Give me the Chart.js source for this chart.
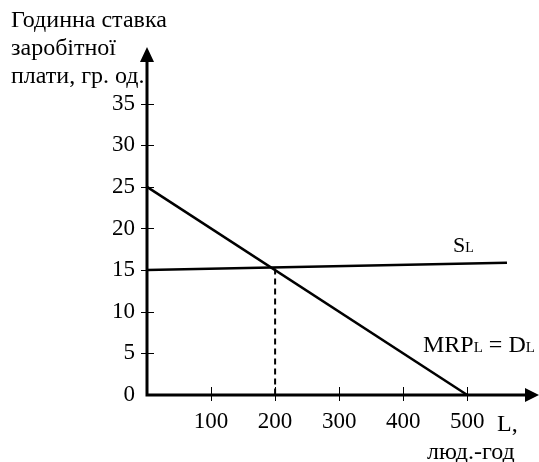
<!DOCTYPE html>
<html>
<head>
<meta charset="utf-8">
<script src="https://cdn.jsdelivr.net/npm/chart.js@4"></script>
<style>
  body { margin: 0; background: #fff; }
  #wrap { width: 539px; height: 462px; position: relative; }
</style>
</head>
<body>
<div id="wrap"><canvas id="labour"></canvas></div>
<script>
// ринок праці: попит MRP = D та пропозиція S
const xTicks = [100, 200, 300, 400, 500];
const yTicks = [0, 5, 10, 15, 20, 25, 30, 35];
const demandPoints = [{ x: 0, y: 25 }, { x: 500, y: 0 }];
const supplyPoints = [{ x: 0, y: 15 }, { x: 562, y: 15.9 }];
const equilibriumDrop = [{ x: 200, y: 15.2 }, { x: 200, y: 0 }];
const titleLines = ['Годинна ставка', 'заробітної', 'плати, гр. од.'];

const serif = '"Liberation Serif", "Times New Roman", serif';

// осі зі стрілками, риски та підписи
const axesPlugin = {
  id: 'axesPlugin',
  beforeDatasetsDraw(chart) {
    const ctx = chart.ctx;
    const { left, right, top, bottom } = chart.chartArea;
    const xs = chart.scales.x, ys = chart.scales.y;
    ctx.save();
    ctx.strokeStyle = '#000';
    ctx.fillStyle = '#000';
    ctx.lineWidth = 3;
    ctx.beginPath();
    ctx.moveTo(left, bottom);
    ctx.lineTo(left, top + 10);
    ctx.moveTo(left - 1.5, bottom);
    ctx.lineTo(right - 10, bottom);
    ctx.stroke();
    // стрілки
    ctx.beginPath();
    ctx.moveTo(left, top);
    ctx.lineTo(left - 7, top + 15);
    ctx.lineTo(left + 7, top + 15);
    ctx.closePath();
    ctx.fill();
    ctx.beginPath();
    ctx.moveTo(right, bottom);
    ctx.lineTo(right - 14, bottom - 7);
    ctx.lineTo(right - 14, bottom + 7);
    ctx.closePath();
    ctx.fill();
    // риски
    ctx.lineWidth = 1;
    ctx.beginPath();
    ys.ticks.forEach(t => {
      if (t.value === 0) return;
      const py = Math.round(ys.getPixelForValue(t.value)) + 0.5;
      ctx.moveTo(left - 6, py);
      ctx.lineTo(left + 7, py);
    });
    xs.ticks.forEach(t => {
      const px = Math.round(xs.getPixelForValue(t.value)) + 0.5;
      ctx.moveTo(px, bottom - 8);
      ctx.lineTo(px, bottom + 6);
    });
    ctx.stroke();
    ctx.restore();
  },
  afterDraw(chart) {
    const ctx = chart.ctx;
    ctx.save();
    ctx.fillStyle = '#000';
    ctx.textBaseline = 'alphabetic';
    ctx.textAlign = 'left';
    ctx.font = '24px ' + serif;
    titleLines.forEach((s, i) => ctx.fillText(s, 11, 27 + i * 28));
    ctx.fillText('L,', 497, 431);
    ctx.fillText('люд.-год', 427, 459);

    // текст з нижнім індексом L
    function sub(parts, size, x, y) {
      parts.forEach(p => {
        ctx.font = (p.small ? Math.round(size * 0.64) : size) + 'px ' + serif;
        ctx.fillText(p.t, x, y);
        x += ctx.measureText(p.t).width;
      });
    }
    sub([{ t: 'S' }, { t: 'L', small: true }], 22, 453, 252);
    sub([{ t: 'MRP' }, { t: 'L', small: true }, { t: ' = D' }, { t: 'L', small: true }], 24, 423, 352);
    ctx.restore();
  }
};

new Chart(document.getElementById('labour'), {
  type: 'scatter',
  data: {
    datasets: [
      { data: demandPoints, showLine: true, borderColor: '#000', borderWidth: 2.5, pointRadius: 0, clip: false },
      { data: supplyPoints, showLine: true, borderColor: '#000', borderWidth: 2.5, pointRadius: 0, clip: false },
      { data: equilibriumDrop, showLine: true, borderColor: '#000', borderWidth: 2, borderDash: [6, 4], pointRadius: 0, clip: false }
    ]
  },
  options: {
    responsive: true,
    maintainAspectRatio: false,
    animation: false,
    events: [],
    layout: { padding: { top: 47, right: 0, bottom: 0, left: 0 } },
    plugins: { legend: { display: false }, tooltip: { enabled: false } },
    scales: {
      x: {
        type: 'linear',
        min: 0,
        max: 612,
        afterBuildTicks: s => { s.ticks = xTicks.map(v => ({ value: v })); },
        afterFit: s => { s.height = 67; },
        grid: { display: false, drawTicks: false },
        border: { display: false },
        ticks: { color: '#000', font: { family: serif, size: 23 }, padding: 13, maxRotation: 0 }
      },
      y: {
        type: 'linear',
        min: 0,
        max: 41.8,
        afterBuildTicks: s => { s.ticks = yTicks.map(v => ({ value: v })); },
        afterFit: s => { s.width = 147; },
        grid: { display: false, drawTicks: false },
        border: { display: false },
        ticks: { color: '#000', font: { family: serif, size: 23 }, padding: 12 }
      }
    }
  },
  plugins: [axesPlugin]
});
</script>
</body>
</html>
